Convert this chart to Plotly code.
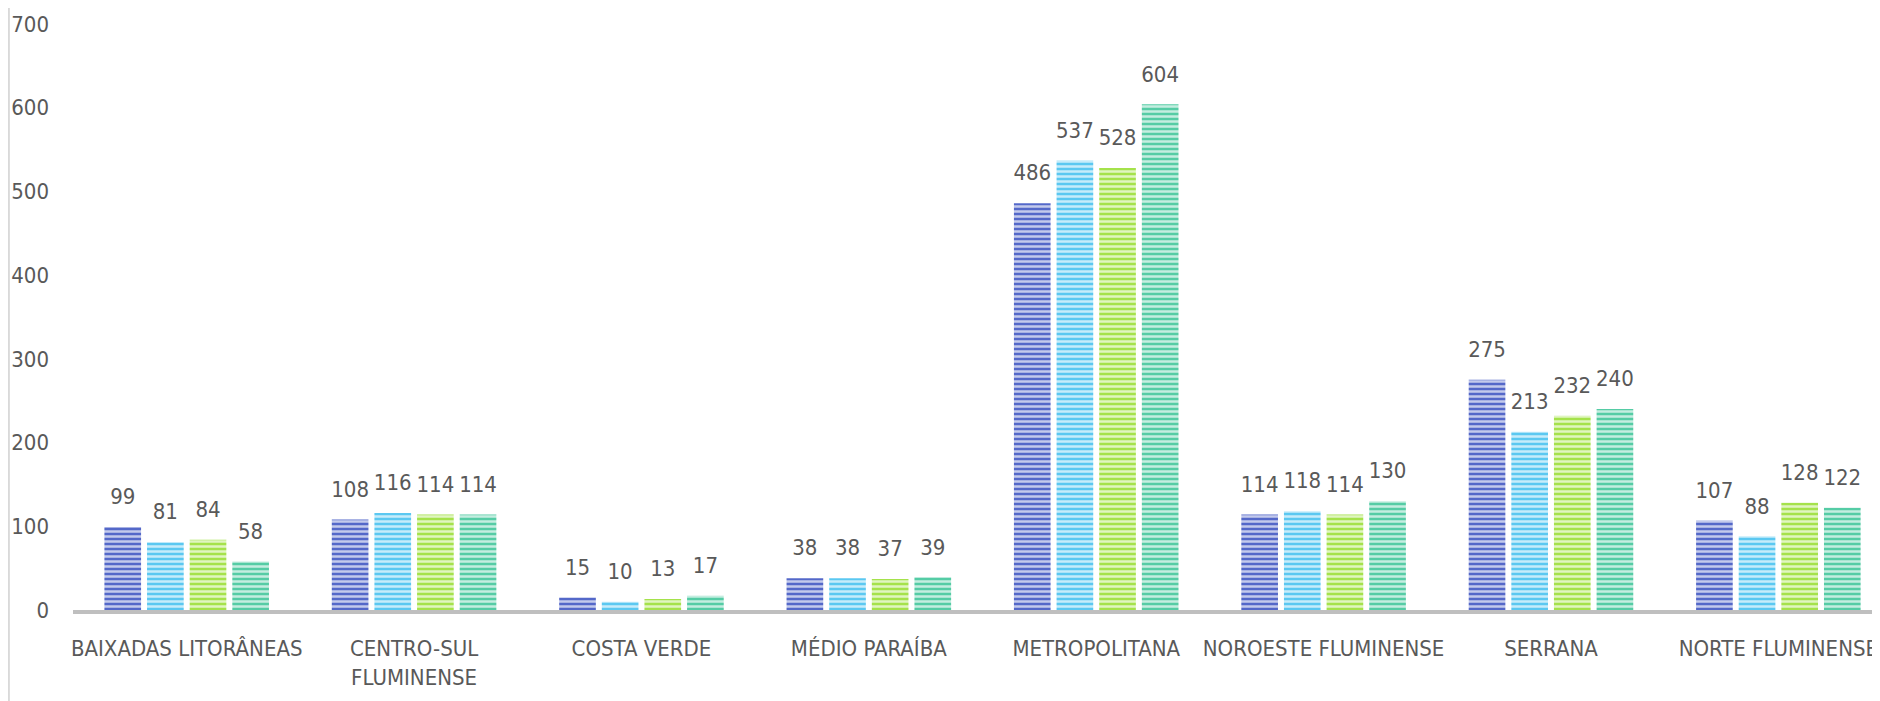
import plotly.graph_objects as go

# regions of Rio de Janeiro state, four series per region
regioes = [
    "BAIXADAS LITORÂNEAS",
    "CENTRO-SUL<br>FLUMINENSE",
    "COSTA VERDE",
    "MÉDIO PARAÍBA",
    "METROPOLITANA",
    "NOROESTE FLUMINENSE",
    "SERRANA",
    "NORTE FLUMINENSE",
]
serie_1 = [99, 108, 15, 38, 486, 114, 275, 107]
serie_2 = [81, 116, 10, 38, 537, 118, 213, 88]
serie_3 = [84, 114, 13, 37, 528, 114, 232, 128]
serie_4 = [58, 114, 17, 39, 604, 130, 240, 122]
nomes = ["Série 1", "Série 2", "Série 3", "Série 4"]
cores = ["#5468C9", "#5BC8F1", "#A5E24B", "#55CCA5"]

FONT = "DejaVu Sans Condensed, Liberation Sans Narrow, sans-serif"
CINZA = "#595959"
GAP = 0.25

series = [serie_1, serie_2, serie_3, serie_4]

fig = go.Figure()
for i, (nome, valores, cor) in enumerate(zip(nomes, series, cores)):
    fig.add_trace(go.Bar(
        x=regioes, y=valores, name=nome, offsetgroup=str(i),
        marker=dict(
            color=cor, line=dict(width=0),
            pattern=dict(shape="-", size=5, solidity=0.5,
                         fgcolor="#FFFFFF", fgopacity=0.65),
        ),
        hoverinfo="x+y",
    ))

# value labels on an overlaid x axis, lifted above the bars by an invisible marker
for i, valores in enumerate(series):
    fig.add_trace(go.Scatter(
        x=regioes, y=valores, xaxis="x2", offsetgroup=str(i),
        mode="markers+text",
        text=[str(v) for v in valores], textposition="top center",
        textfont=dict(family=FONT, size=22, color=CINZA),
        marker=dict(size=26, opacity=0), cliponaxis=False,
        hoverinfo="skip", showlegend=False,
    ))

# the page body adds an 8px margin, so the figure is sized to the visible area
fig.update_layout(
    width=1872, height=693,
    margin=dict(l=65, r=0, t=16, b=91),
    plot_bgcolor="white", paper_bgcolor="white",
    barmode="group", bargap=GAP, bargroupgap=0.14,
    scattermode="group", scattergap=GAP,
    showlegend=False,
    font=dict(family=FONT, color=CINZA, size=22),
    shapes=[dict(type="line", xref="paper", yref="paper",
                 x0=-0.0355, x1=-0.0355, y0=-0.2, y1=1.1,
                 line=dict(color="#D9D9D9", width=2))],
    xaxis=dict(
        range=[-0.5, 7.447], showgrid=False, showline=True, linewidth=4,
        linecolor="#BFBFBF", tickangle=0, ticks="", automargin=False,
        tickfont=dict(family=FONT, size=22, color=CINZA),
        ticklabelstandoff=16,
    ),
    xaxis2=dict(
        overlaying="x", range=[-0.5, 7.447], visible=False,
        categoryorder="array", categoryarray=regioes,
    ),
    yaxis=dict(
        range=[0, 700], dtick=100, showgrid=False, zeroline=False, showline=False,
        automargin=False,
        tickfont=dict(family=FONT, size=22, color=CINZA),
        ticklabelstandoff=23,
    ),
)

fig.write_html("out.html")
